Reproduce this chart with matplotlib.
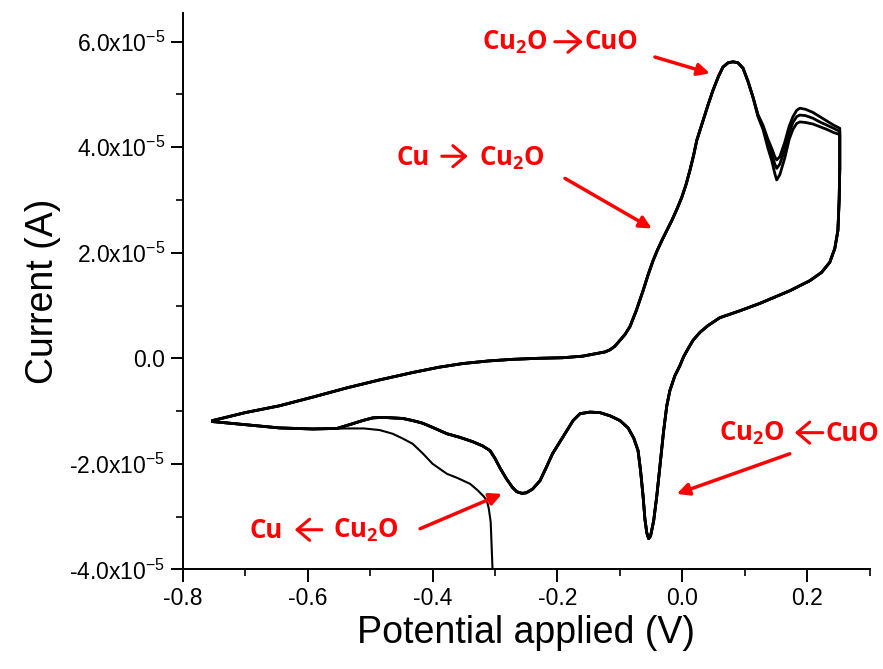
import numpy as np
import matplotlib
matplotlib.use("Agg")
import matplotlib.pyplot as plt
from matplotlib.ticker import FixedLocator, MultipleLocator, FuncFormatter

plt.rcParams["font.family"] = ["Liberation Sans", "DejaVu Sans"]
plt.rcParams["mathtext.default"] = "regular"

# --- data (potential in V, current in 1e-5 A) ---
# anodic sweep, common to all cycles (left vertex -> before 2nd peak)
fwd_x = [-0.752, -0.700, -0.645, -0.590, -0.537, -0.485, -0.432, -0.390, -0.352,
         -0.310, -0.272, -0.230, -0.192, -0.160, -0.137, -0.124, -0.116, -0.108,
         -0.100, -0.092, -0.084, -0.074, -0.063, -0.055, -0.047, -0.040, -0.033,
         -0.025, -0.017, -0.009, -0.001, 0.006, 0.012, 0.018, 0.023, 0.033, 0.041,
         0.049, 0.058, 0.065, 0.073, 0.081, 0.089, 0.097, 0.105, 0.113]
fwd_y = [-1.18, -1.03, -0.90, -0.73, -0.56, -0.41, -0.27, -0.17, -0.10,
         -0.05, -0.02, 0.00, 0.01, 0.04, 0.09, 0.12, 0.16, 0.23,
         0.34, 0.45, 0.60, 0.90, 1.28, 1.58, 1.85, 2.05, 2.23,
         2.42, 2.61, 2.82, 3.05, 3.30, 3.56, 3.85, 4.13, 4.50, 4.80,
         5.08, 5.35, 5.52, 5.60, 5.62, 5.60, 5.50, 5.25, 4.95]

# second anodic peak region, one array per cycle
peak2_x = [0.121, 0.129, 0.137, 0.143, 0.148, 0.151, 0.156, 0.164, 0.171, 0.177,
           0.183, 0.188, 0.197, 0.209, 0.220, 0.231, 0.242, 0.252]
peak2_y1 = [4.62, 4.42, 4.15, 3.98, 3.82, 3.76, 3.82, 4.10, 4.40, 4.58,
            4.70, 4.74, 4.72, 4.66, 4.58, 4.50, 4.42, 4.36]
peak2_y2 = [4.60, 4.38, 4.08, 3.88, 3.68, 3.60, 3.68, 3.96, 4.28, 4.47,
            4.58, 4.61, 4.60, 4.55, 4.48, 4.42, 4.36, 4.30]
peak2_y3 = [4.58, 4.34, 3.98, 3.75, 3.50, 3.38, 3.48, 3.80, 4.15, 4.34,
            4.45, 4.48, 4.47, 4.44, 4.39, 4.34, 4.28, 4.24]

# cathodic sweep (right vertex -> left vertex)
rev_x = [0.252, 0.252, 0.251, 0.249, 0.244, 0.236, 0.223, 0.204, 0.172, 0.124,
         0.092, 0.060, 0.041, 0.028, 0.017, 0.009, 0.002, -0.004, -0.012, -0.020,
         -0.025, -0.030, -0.035, -0.041, -0.046, -0.051, -0.054, -0.057, -0.060,
         -0.063, -0.067, -0.071, -0.078, -0.087, -0.100, -0.116, -0.132, -0.148,
         -0.164, -0.175, -0.185, -0.197, -0.208, -0.218, -0.228, -0.240, -0.250,
         -0.257, -0.265, -0.272, -0.282, -0.292, -0.300, -0.308, -0.320, -0.336,
         -0.356, -0.377, -0.400, -0.416, -0.432, -0.448, -0.464, -0.480, -0.496,
         -0.512, -0.528, -0.553, -0.592, -0.645, -0.698, -0.752]
rev_y = [4.30, 3.60, 3.00, 2.42, 2.08, 1.82, 1.63, 1.47, 1.28, 1.04,
         0.90, 0.77, 0.62, 0.49, 0.34, 0.18, 0.03, -0.14, -0.33, -0.61,
         -0.90, -1.37, -1.94, -2.61, -3.08, -3.37, -3.42, -3.31, -3.05,
         -2.61, -2.13, -1.75, -1.51, -1.32, -1.18, -1.09, -1.03, -1.02,
         -1.05, -1.18, -1.37, -1.60, -1.81, -2.07, -2.32, -2.48, -2.55,
         -2.56, -2.53, -2.45, -2.28, -2.08, -1.90, -1.75, -1.66, -1.58,
         -1.50, -1.43, -1.31, -1.23, -1.18, -1.14, -1.13, -1.12, -1.13,
         -1.18, -1.24, -1.33, -1.34, -1.32, -1.26, -1.20]

# initial sweep starting at -0.30 V (thin line)
init_x = [-0.304, -0.304, -0.305, -0.307, -0.310, -0.313, -0.318, -0.328, -0.340,
          -0.360, -0.377, -0.400, -0.416, -0.432, -0.448, -0.464, -0.485, -0.510,
          -0.537, -0.560]
init_y = [-4.80, -4.01, -3.70, -3.10, -2.85, -2.70, -2.62, -2.50, -2.38,
          -2.27, -2.19, -2.00, -1.80, -1.62, -1.52, -1.43, -1.36, -1.33,
          -1.33, -1.335]

yticks = [-4e-5, -2e-5, 0, 2e-5, 4e-5, 6e-5]
xticks = [-0.8, -0.6, -0.4, -0.2, 0.0, 0.2]

# annotation labels: left part, right part, arrow direction in the label
lab_left = ["Cu$_2$O", "Cu", "Cu$_2$O", "Cu"]
lab_right = ["CuO", "Cu$_2$O", "CuO", "Cu$_2$O"]
lab_dir = [1, 1, -1, -1]
lab_left_end = [-0.2155, -0.4045, 0.1640, -0.6399]
lab_right_start = [-0.1563, -0.3260, 0.2299, -0.5598]
lab_base = [5.86, 3.66, -1.56, -3.40]
glyph_x0 = [-0.2043, -0.3853, 0.1800, -0.6207]
glyph_x1 = [-0.1595, -0.3437, 0.2248, -0.5774]
glyph_y = [6.00, 3.83, -1.41, -3.25]
# pointer arrows from labels to peaks
arrow_from = [(-0.044, 5.71), (-0.188, 3.41), (0.172, -1.81), (-0.420, -3.23)]
arrow_to = [(0.044, 5.40), (-0.049, 2.46), (-0.009, -2.57), (-0.289, -2.57)]

fig = plt.figure(figsize=(8.83, 6.69), dpi=100)
ax = fig.add_axes([0.207, 0.149, 0.778, 0.832])

s = 1e-5
for py in (peak2_y1, peak2_y2, peak2_y3):
    cx = np.array(fwd_x + peak2_x + rev_x[1:])
    cy = np.array(fwd_y + py + rev_y[1:]) * s
    ax.plot(cx, cy, color="black", lw=2.0, solid_joinstyle="round")
ax.plot(init_x, np.array(init_y) * s, color="black", lw=1.5)

ax.set_xlim(-0.8, 0.3)
ax.set_ylim(-4e-5, 6.55e-5)

for sp in ("top", "right"):
    ax.spines[sp].set_visible(False)
for sp in ("left", "bottom"):
    ax.spines[sp].set_linewidth(1.4)

ax.yaxis.set_major_locator(FixedLocator(yticks))
ax.yaxis.set_minor_locator(MultipleLocator(1e-5))
ax.xaxis.set_major_locator(FixedLocator(xticks))
ax.xaxis.set_minor_locator(MultipleLocator(0.1))


def yfmt(v, pos):
    if abs(v) < 1e-12:
        return "0.0"
    return "%.1fx10$^{-5}$" % (v / 1e-5)


ax.yaxis.set_major_formatter(FuncFormatter(yfmt))
ax.xaxis.set_major_formatter(FuncFormatter(lambda v, p: "%.1f" % v))
ax.tick_params(which="major", direction="out", length=9, width=1.4, labelsize=16.5)
ax.tick_params(which="minor", direction="out", length=5, width=1.2)

ax.set_xlabel("Potential applied (V)", fontsize=27, labelpad=4)
ax.set_ylabel("Current (A)", fontsize=27, labelpad=6)

tkw = dict(color="red", fontsize=18.5, fontweight="bold", family="Open Sans",
           va="baseline")
for i in range(4):
    ax.text(lab_left_end[i], lab_base[i] * s, lab_left[i], ha="right", **tkw)
    ax.text(lab_right_start[i], lab_base[i] * s, lab_right[i], ha="left", **tkw)
    xa, xb = glyph_x0[i], glyph_x1[i]
    if lab_dir[i] < 0:
        xa, xb = xb, xa
    ax.annotate("", xy=(xb, glyph_y[i] * s), xytext=(xa, glyph_y[i] * s),
                arrowprops=dict(arrowstyle="->,head_length=0.45,head_width=0.38",
                                color="red", lw=2.2, mutation_scale=20,
                                shrinkA=0, shrinkB=0))
    (ax0, ay0), (ax1, ay1) = arrow_from[i], arrow_to[i]
    ax.annotate("", xy=(ax1, ay1 * s), xytext=(ax0, ay0 * s),
                arrowprops=dict(arrowstyle="-|>", color="red", lw=2.5,
                                mutation_scale=18, shrinkA=0, shrinkB=0))

fig.savefig("out.png", dpi=100)
